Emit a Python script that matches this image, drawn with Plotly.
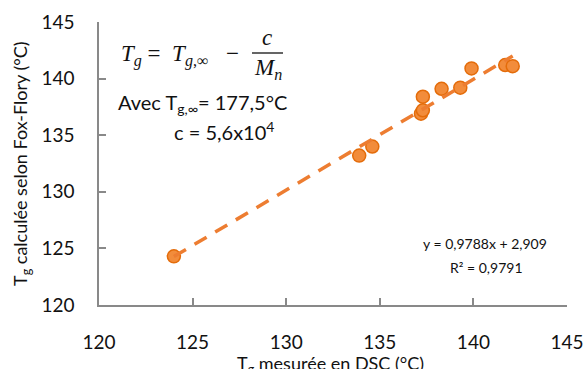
import plotly.graph_objects as go

# Data
tg_dsc = [124.0, 133.9, 134.6, 137.3, 137.2, 137.3, 138.3, 139.3, 139.9, 141.7, 142.1]
tg_fox = [124.3, 133.2, 134.0, 138.4, 136.9, 137.2, 139.1, 139.2, 140.9, 141.2, 141.1]

slope = 0.9788
intercept = 2.909
x_ticks = [120, 125, 130, 135, 140, 145]
y_ticks = [120, 125, 130, 135, 140, 145]

trend_x = [min(tg_dsc), max(tg_dsc)]
trend_y = [slope * v + intercept for v in trend_x]

W, H = 585, 369
L, R, T, B = 99, 18, 22, 64
PW, PH = W - L - R, H - T - B


def px(xp):
    return (xp - L) / PW


def py(yp):
    return (H - B - yp) / PH


fig = go.Figure()
fig.add_trace(go.Scatter(
    x=tg_dsc, y=tg_fox, mode="markers",
    marker=dict(size=13, color="#F28C3B", line=dict(color="#E46C0A", width=1.5)),
    showlegend=False,
))
fig.add_trace(go.Scatter(
    x=trend_x, y=trend_y, mode="lines",
    line=dict(color="#ED7D31", width=3.5, dash="14px,10px"),
    showlegend=False,
))

axis_common = dict(
    showgrid=False, zeroline=False, showline=True, linecolor="#898989", linewidth=1.5,
    ticks="inside", ticklen=7, tickcolor="#898989", tickwidth=1.5,
    tickfont=dict(family="Lato", size=19, color="#111111"),
    automargin=False,
)
fig.update_xaxes(range=[120, 145], tickvals=x_ticks, ticktext=[str(v) for v in x_ticks],
                 ticklabelstandoff=19, **axis_common)
fig.update_yaxes(range=[120, 145], tickvals=y_ticks, ticktext=[str(v) for v in y_ticks],
                 ticklabelstandoff=19, **axis_common)

math_font = dict(family="Liberation Serif", size=23, color="#111111")
txt_font = dict(family="Lato", size=20, color="#111111")
small_font = dict(family="Lato", size=14, color="#111111")
title_font = dict(family="Lato", size=18, color="#111111")

annotations = [
    dict(text="T<sub>g</sub> mesurée en DSC (°C)", x=px(330), y=py(364), xanchor="center",
         yanchor="middle", font=title_font),
    dict(text="T<sub>g</sub> calculée selon Fox-Flory (°C)", x=px(21), y=py(164), xanchor="center",
         yanchor="middle", font=title_font, textangle=-90),
    dict(text="<i>T</i><sub><i>g</i></sub> =  <i>T</i><sub><i>g</i>,∞</sub>", x=px(119), y=py(55),
         xanchor="left", yanchor="middle", font=math_font),
    dict(text="−", x=px(232), y=py(53), xanchor="center", yanchor="middle", font=math_font),
    dict(text="<i>c</i>", x=px(267), y=py(38), xanchor="center", yanchor="middle", font=math_font),
    dict(text="<i>M</i><sub><i>n</i></sub>", x=px(268), y=py(69), xanchor="center", yanchor="middle",
         font=math_font),
    dict(text="Avec T<sub>g,∞</sub>= 177,5°C", x=px(116), y=py(104), xanchor="left", yanchor="middle",
         font=txt_font),
    dict(text="c = 5,6x10<sup>4</sup>", x=px(172), y=py(131), xanchor="left", yanchor="middle",
         font=txt_font),
    dict(text="y = 0,9788x + 2,909", x=px(485), y=py(243), xanchor="center", yanchor="middle",
         font=small_font),
    dict(text="R² = 0,9791", x=px(486), y=py(267), xanchor="center", yanchor="middle",
         font=small_font),
]
for a in annotations:
    a.update(xref="paper", yref="paper", showarrow=False)

fig.update_layout(
    width=W, height=H,
    margin=dict(l=L, r=R, t=T, b=B),
    paper_bgcolor="white", plot_bgcolor="white",
    annotations=annotations,
    shapes=[dict(type="line", xref="paper", yref="paper", x0=px(252), x1=px(283),
                 y0=py(53), y1=py(53), line=dict(color="#111111", width=1.3))],
)

fig.write_html("out.html", config={"displayModeBar": False},
               post_script="document.body.style.margin='0';document.body.style.padding='0';")
